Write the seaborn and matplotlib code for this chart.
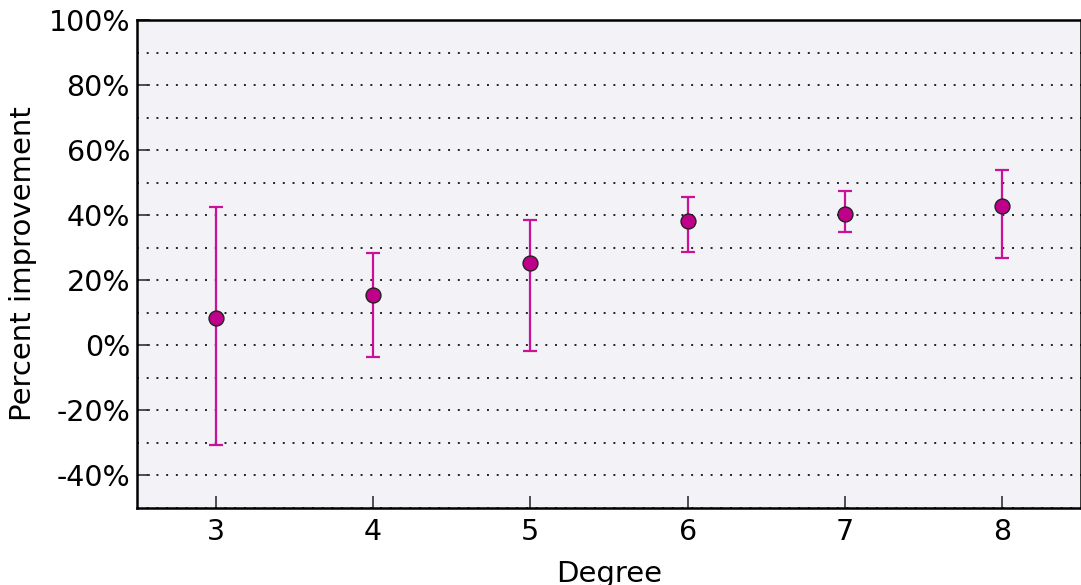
import matplotlib
matplotlib.use("Agg")
import matplotlib.pyplot as plt
import seaborn as sns
import pandas as pd
from matplotlib.ticker import MultipleLocator, FuncFormatter

degrees = [3, 4, 5, 6, 7, 8]
means = [8.4, 15.5, 25.3, 38.2, 40.4, 42.8]
upper = [42.5, 28.4, 38.5, 45.6, 47.5, 53.9]
lower = [-30.6, -3.6, -1.8, 28.7, 34.8, 26.9]

df = pd.DataFrame({"Degree": degrees, "mean": means, "upper": upper, "lower": lower})

sns.set_theme(style="white")
plt.rcParams['font.family'] = ['DejaVu Sans']
plt.rcParams['text.color'] = 'black'
plt.rcParams['axes.labelcolor'] = 'black'

fig = plt.figure(figsize=(10.81, 5.85), dpi=100)
ax = fig.add_axes([137/1081, 1 - 508/585, 1 - 137/1081, (508 - 20)/585])
ax.set_facecolor('#f2f2f7')

ax.errorbar(df["Degree"], df["mean"],
            yerr=[df["mean"] - df["lower"], df["upper"] - df["mean"]],
            fmt='none', ecolor='#cc1199', elinewidth=1.6, capsize=5, capthick=1.6, zorder=2)
sns.scatterplot(data=df, x="Degree", y="mean", ax=ax, s=115, color='#c0008a',
                edgecolor='#222222', linewidth=1.0, zorder=3)

ax.set_xlim(2.5, 8.5)
ax.set_ylim(-50, 100)
ax.set_xticks(degrees)
ax.yaxis.set_major_locator(MultipleLocator(20))
ax.yaxis.set_minor_locator(MultipleLocator(10))
ax.yaxis.set_major_formatter(FuncFormatter(lambda v, p: f"{int(round(v))}%"))
ax.grid(True, which='both', axis='y', color='#222222', linestyle=(0, (1, 4)), linewidth=1.4)
ax.set_axisbelow(True)

ax.tick_params(axis='both', which='major', direction='in', length=9, width=1.2,
               labelsize=20.5, color='#333333', labelcolor='black', pad=5,
               top=False, right=False, left=True, bottom=True)
ax.tick_params(axis='x', which='major', pad=7)
ax.tick_params(axis='y', which='minor', left=False, right=False)

for s in ax.spines.values():
    s.set_linewidth(1.8)
    s.set_color('black')
    s.set_visible(True)

ax.set_xlabel("Degree", fontsize=21, labelpad=10, color='black')
ax.set_ylabel("Percent improvement", fontsize=21, labelpad=8, color='black')

fig.savefig("out.png", dpi=100)
